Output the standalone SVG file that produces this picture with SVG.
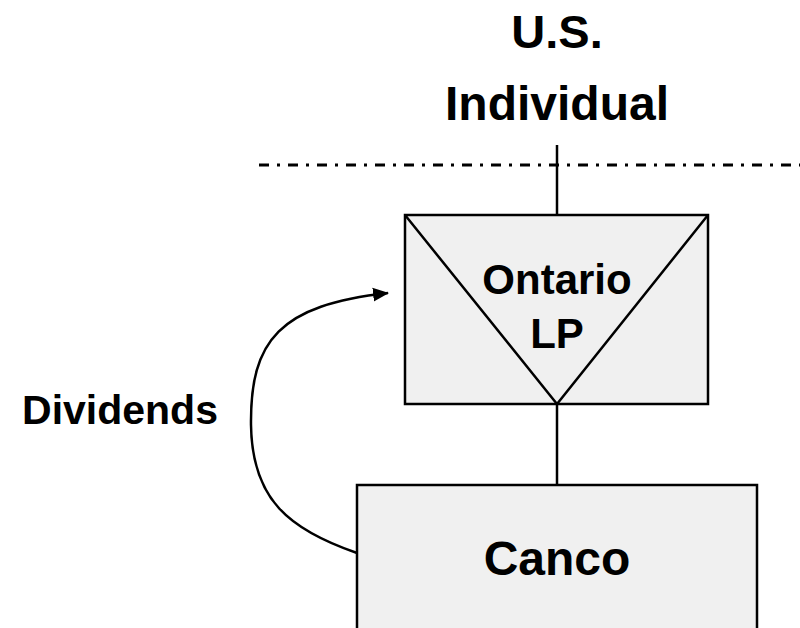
<svg xmlns="http://www.w3.org/2000/svg" width="800" height="628" viewBox="0 0 800 628">
<style>
.box{fill:#f0f0f0;stroke:#000;stroke-width:2.5}
.ln{stroke:#000;stroke-width:2.5;fill:none}
.t{font-family:"Liberation Sans",Arial,sans-serif;font-weight:bold;fill:#000;text-anchor:middle}
</style>
<defs>
<marker id="ah" markerWidth="16" markerHeight="16" refX="15" refY="8" orient="auto" markerUnits="userSpaceOnUse" viewBox="0 0 16 16">
<path d="M0,1 L16,8 L0,15 z" fill="#000"/>
</marker>
</defs>
<rect width="800" height="628" fill="#fff"/>
<g id="us-individual">
<text class="t" x="557" y="48" font-size="47">U.S.</text>
<text class="t" x="557" y="120" font-size="48">Individual</text>
</g>
<g id="border">
<line x1="259" y1="165" x2="800" y2="165" stroke="#000" stroke-width="3" stroke-dasharray="10,8,3,8"/>
</g>
<g id="ontario-lp">
<rect class="box" x="405" y="215" width="303" height="189"/>
<polyline class="ln" points="405,215 557,404 708,215"/>
<text class="t" x="557" y="294" font-size="42">Ontario</text>
<text class="t" x="557" y="348" font-size="42">LP</text>
</g>
<g id="canco">
<rect class="box" x="357" y="485" width="400" height="160"/>
<text class="t" x="557" y="575" font-size="48">Canco</text>
</g>
<g id="dividends-label">
<text class="t" x="120" y="424" font-size="41">Dividends</text>
</g>
<g id="connectors">
<line class="ln" x1="557" y1="145" x2="557" y2="215"/>
<line class="ln" x1="557" y1="404" x2="557" y2="485"/>
<path class="ln" d="M357,553 C290,530 252,500 251,425 C250,340 280,305 388,293" marker-end="url(#ah)"/>
</g>
</svg>
